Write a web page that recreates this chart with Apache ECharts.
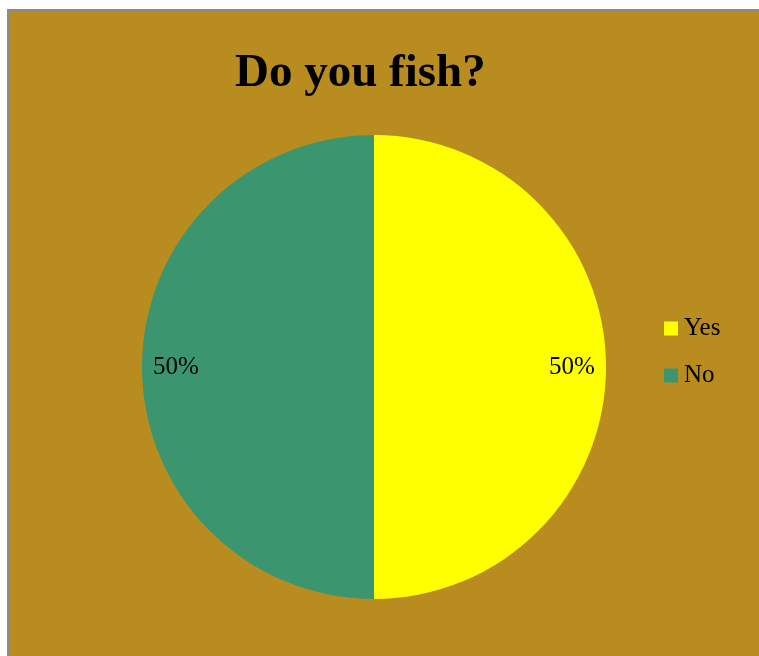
<!DOCTYPE html>
<html>
<head>
<meta charset="utf-8">
<script src="https://cdn.jsdelivr.net/npm/echarts@6/dist/echarts.min.js"></script>
<style>
  html, body { margin: 0; padding: 0; background: #ffffff; overflow: hidden; }
  #frame { position: absolute; left: 7px; top: 9px; border-left: 2px solid #8a8a8a; border-top: 2px solid #8a8a8a; }
  #chart { width: 750px; height: 645px; }
</style>
</head>
<body>
<div id="frame"><div id="chart"></div></div>
<script>
// Survey answers
const categories = ['Yes', 'No'];
const shares = [50, 50];
const sliceColors = ['#ffff00', '#3b9670'];

const pieData = categories.map((name, i) => ({
  name: name,
  value: shares[i],
  itemStyle: { color: sliceColors[i] }
}));

const serif = '"Liberation Serif", "DejaVu Serif", serif';
const chart = echarts.init(document.getElementById('chart'), null, { renderer: 'canvas' });

chart.setOption({
  backgroundColor: '#b98c20',
  animation: false,
  title: {
    text: 'Do you fish?',
    left: 221,
    top: 34,
    textStyle: { fontFamily: serif, fontSize: 47, fontWeight: 'bold', color: '#000000' }
  },
  legend: {
    orient: 'vertical',
    left: 650,
    top: 300,
    itemWidth: 14,
    itemHeight: 14,
    itemGap: 22,
    icon: 'rect',
    data: categories,
    textStyle: { fontFamily: serif, fontSize: 25, color: '#000000', padding: [0, 0, 0, 1] }
  },
  series: [
    {
      type: 'pie',
      center: [365, 356],
      radius: [0, 232],
      startAngle: 90,
      clockwise: true,
      silent: true,
      label: { show: false },
      labelLine: { show: false },
      itemStyle: { borderWidth: 0 },
      data: pieData
    },
    {
      // transparent ring that carries the percentage labels near the rim
      type: 'pie',
      center: [365, 356],
      radius: [158, 232],
      startAngle: 90,
      clockwise: true,
      silent: true,
      legendHoverLink: false,
      itemStyle: { color: 'rgba(0,0,0,0)', borderWidth: 0 },
      label: {
        show: true,
        position: 'inside',
        formatter: '{d}%',
        fontFamily: serif,
        fontSize: 25,
        color: '#000000'
      },
      labelLine: { show: false },
      data: categories.map((name, i) => ({ name: name, value: shares[i], itemStyle: { color: 'rgba(0,0,0,0)' } }))
    }
  ]
});
</script>
</body>
</html>
